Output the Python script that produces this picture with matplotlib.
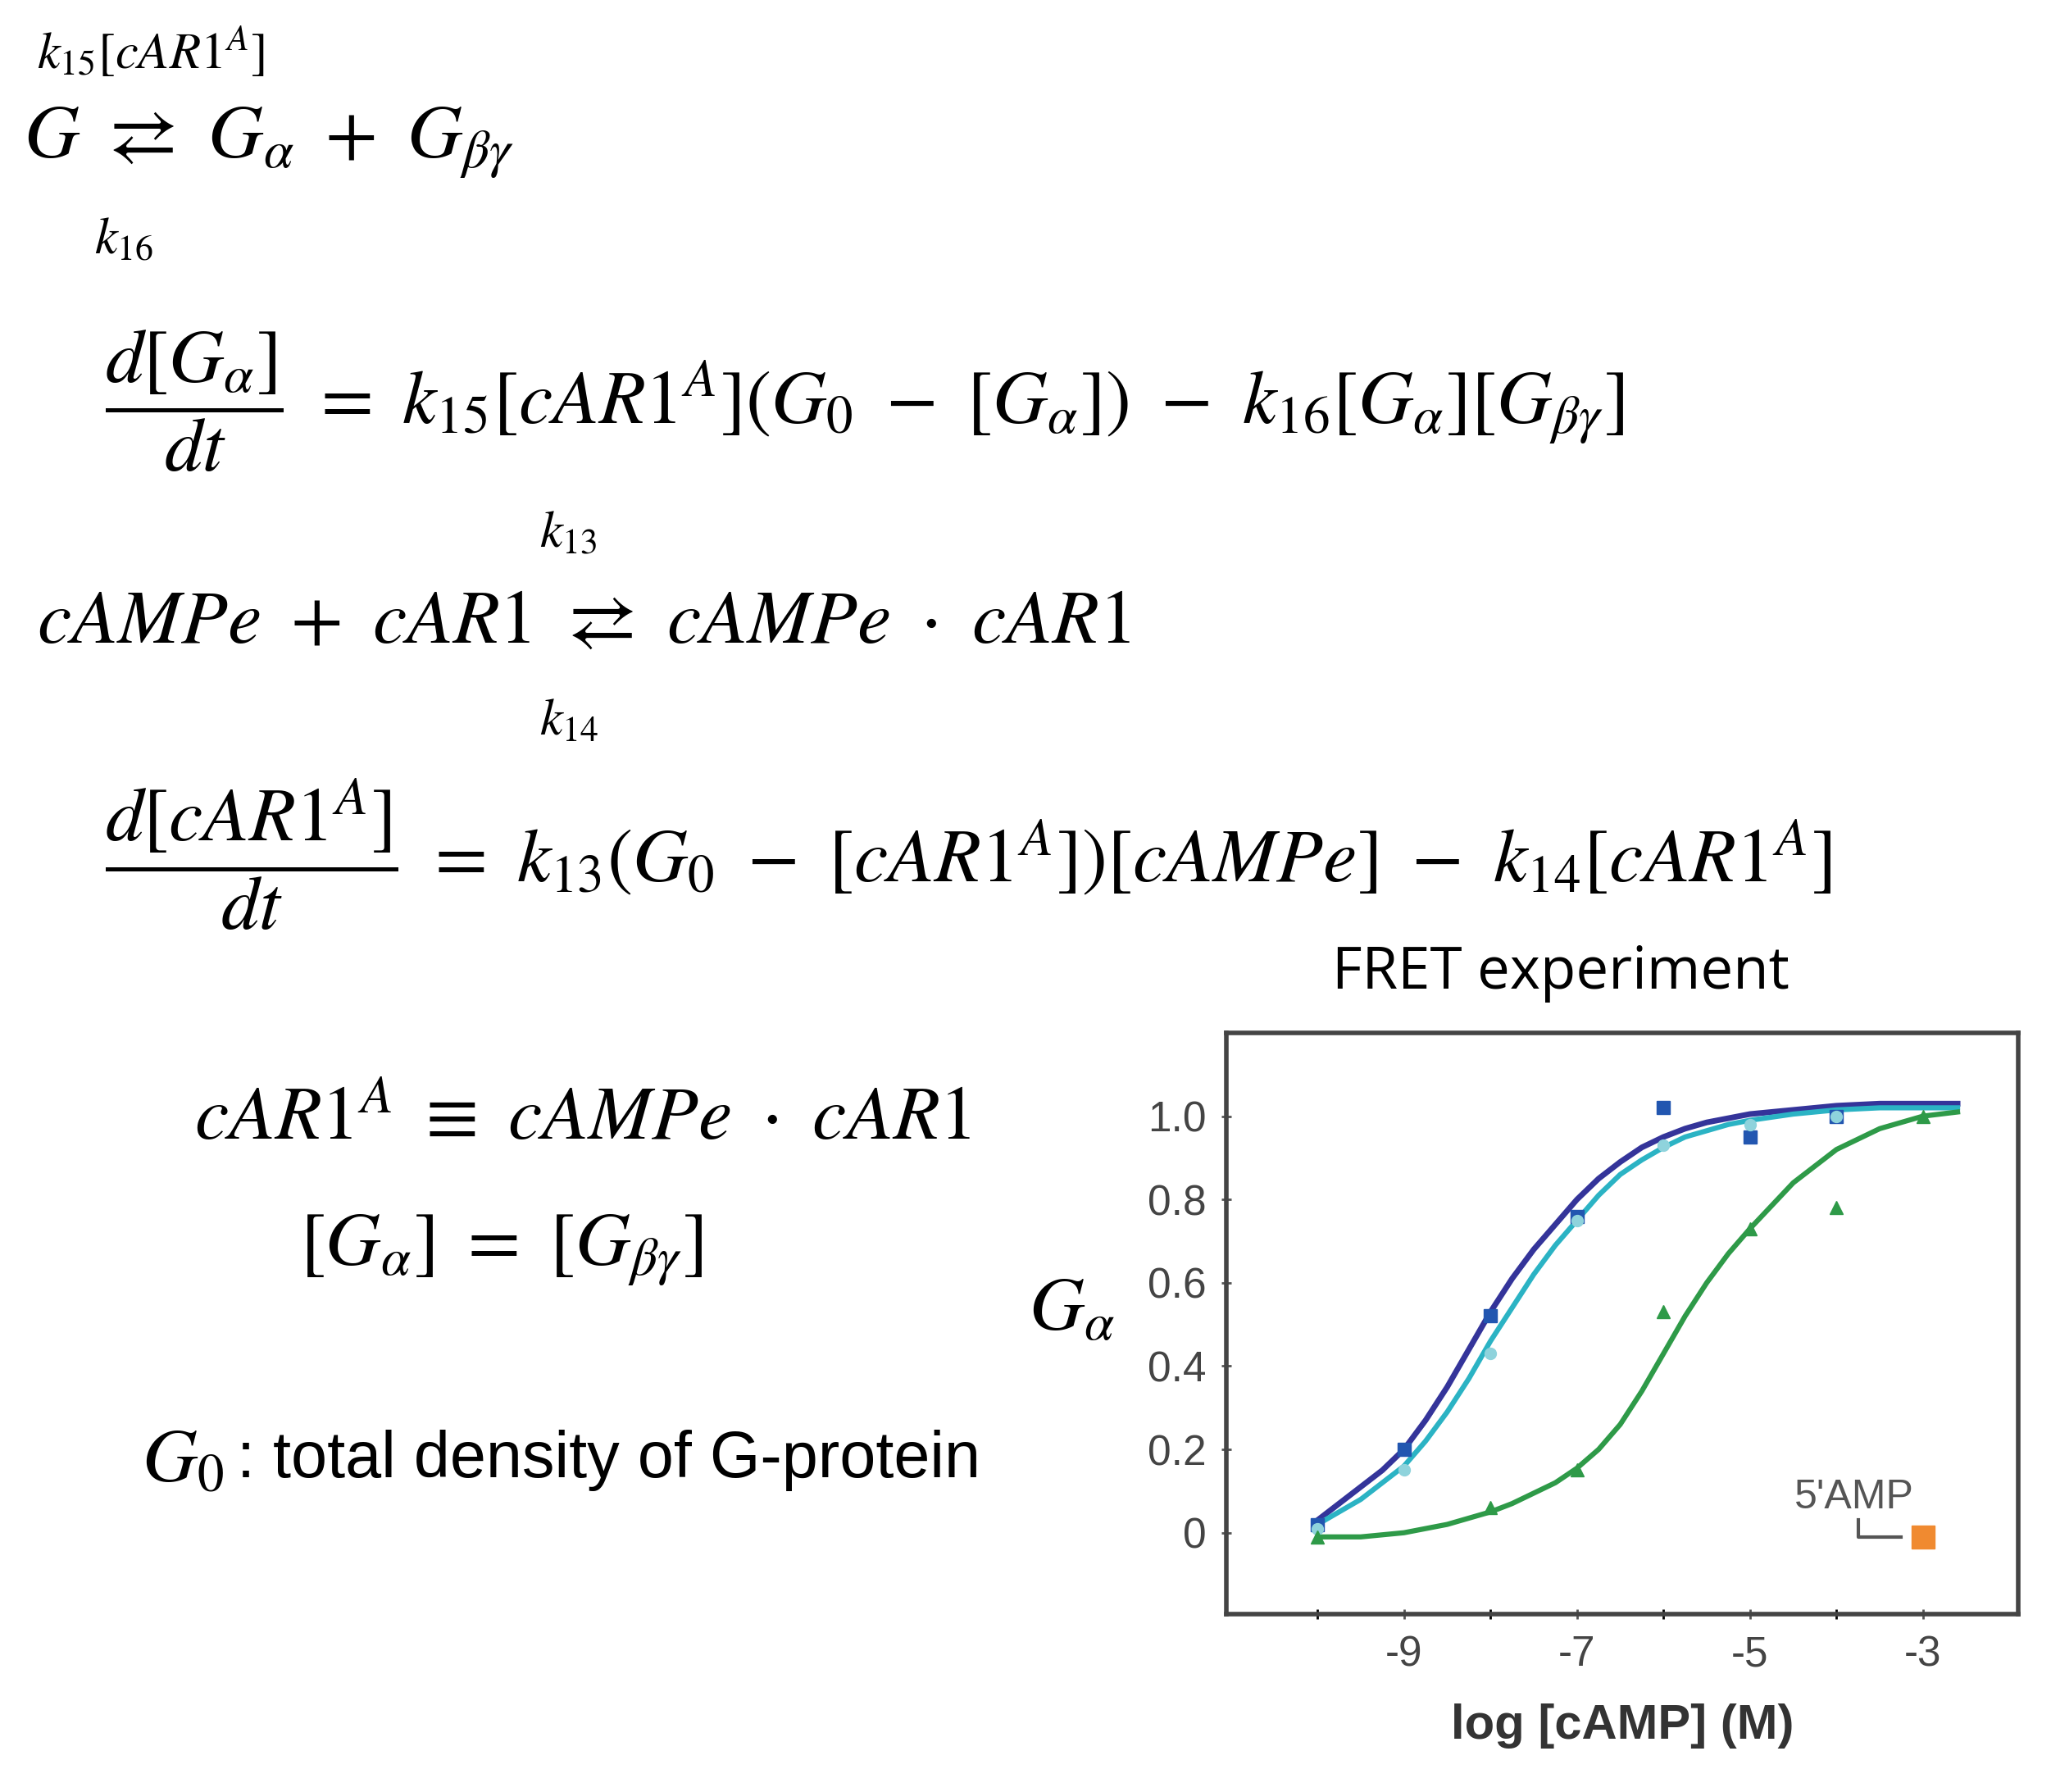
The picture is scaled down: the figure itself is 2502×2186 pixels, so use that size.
import matplotlib
matplotlib.use("Agg")
import matplotlib.pyplot as plt

plt.rcParams['mathtext.fontset'] = 'stix'

# data points
x_pts = [-10, -9, -8, -7, -6, -5, -4]
blue_pts = [0.02, 0.20, 0.52, 0.76, 1.02, 0.95, 1.00]
cyan_pts = [0.01, 0.15, 0.43, 0.75, 0.93, 0.98, 1.00]
x_green = [-10, -8, -7, -6, -5, -4, -3]
green_pts = [-0.01, 0.06, 0.15, 0.53, 0.73, 0.78, 1.00]
x_amp = [-3]
amp_pts = [-0.01]

# fitted curves
x_curve = [-10, -9.75, -9.5, -9.25, -9, -8.75, -8.5, -8.25, -8, -7.75, -7.5, -7.25, -7, -6.75, -6.5, -6.25, -6,
           -5.75, -5.5, -5.25, -5, -4.5, -4, -3.5, -3, -2.6]
blue_curve = [0.03, 0.07, 0.11, 0.15, 0.20, 0.27, 0.35, 0.44, 0.53, 0.61, 0.68, 0.74, 0.80, 0.85, 0.89, 0.925, 0.95,
              0.97, 0.985, 0.995, 1.005, 1.015, 1.025, 1.03, 1.03, 1.03]
cyan_curve = [0.02, 0.05, 0.08, 0.12, 0.16, 0.22, 0.29, 0.37, 0.46, 0.54, 0.62, 0.69, 0.75, 0.81, 0.86, 0.895, 0.925,
              0.95, 0.965, 0.98, 0.99, 1.005, 1.015, 1.02, 1.02, 1.02]
green_curve = [-0.01, -0.01, -0.01, -0.005, 0.0, 0.01, 0.02, 0.035, 0.05, 0.07, 0.095, 0.12, 0.155, 0.20, 0.26, 0.34,
               0.43, 0.52, 0.60, 0.67, 0.73, 0.84, 0.92, 0.97, 1.00, 1.01]

xticks = [-9, -7, -5, -3]
yticks = [0, 0.2, 0.4, 0.6, 0.8, 1.0]
yticklabels = ['0', '0.2', '0.4', '0.6', '0.8', '1.0']

W, H = 1560.0, 1362.0
fig = plt.figure(figsize=(25.02, 21.86), dpi=100)

def T(x, y, s, size, **kw):
    fig.text(x / W, 1 - y / H, s, fontsize=size, va='center', **kw)

big = 67
small = 45
T(28, 40, r'$k_{15}[cAR1^A]$', small)
T(18, 108, r'$G\ \rightleftarrows\ G_\alpha\ +\ G_{\beta\gamma}$', big)
T(72, 182, r'$k_{16}$', small)
T(80, 305, r'$\dfrac{d[G_\alpha]}{dt}\ =\ k_{15}[cAR1^A](G_0\ -\ [G_\alpha])\ -\ k_{16}[G_\alpha][G_{\beta\gamma}]$', big)
T(410, 405, r'$k_{13}$', small)
T(28, 472, r'$cAMPe\ +\ cAR1\ \rightleftarrows\ cAMPe\ \cdot\ cAR1$', big)
T(410, 548, r'$k_{14}$', small)
T(80, 650, r'$\dfrac{d[cAR1^A]}{dt}\ =\ k_{13}(G_0\ -\ [cAR1^A])[cAMPe]\ -\ k_{14}[cAR1^A]$', big)
T(148, 850, r'$cAR1^A\ \equiv\ cAMPe\ \cdot\ cAR1$', big)
T(228, 950, r'$[G_\alpha]\ =\ [G_{\beta\gamma}]$', big)
T(108, 1110, r'$G_0$', big)
T(180, 1110, ': total density of G-protein', 57, family='Liberation Sans')
T(1187, 740, 'FRET experiment', 51, family='Open Sans', ha='center')
T(815, 995, r'$G_\alpha$', big, ha='center')

ax = fig.add_axes([933 / W, 1 - 1227 / H, (1535 - 933) / W, (1227 - 785) / H])
ax.set_xlim(-11.05, -1.9)
ax.set_ylim(-0.196, 1.2)
ax.plot(x_curve, blue_curve, color='#34349a', lw=5)
ax.plot(x_curve, cyan_curve, color='#2bb3c4', lw=4.5)
ax.plot(x_curve, green_curve, color='#2e9a48', lw=4.5)
ax.plot(x_pts, blue_pts, 's', color='#2256b0', ms=12)
ax.plot(x_pts, cyan_pts, 'o', color='#8fd3dc', ms=10)
ax.plot(x_green, green_pts, '^', color='#2e9a48', ms=12)
ax.plot(x_amp, amp_pts, 's', color='#f08a30', ms=20)
ax.plot([-3.75, -3.75, -3.25], [0.03, -0.01, -0.01], color='#555555', lw=3)
ax.text(-3.8, 0.085, "5'AMP", fontsize=36, color='#555555', ha='center', va='center', family='Liberation Sans')
ax.set_xticks(xticks)
ax.set_xticks([-10, -8, -6, -4], minor=True)
ax.set_xticklabels([str(v) for v in xticks])
ax.set_yticks(yticks)
ax.set_yticklabels(yticklabels)
ax.tick_params(labelsize=37, labelcolor='#444444', colors='#555555', length=8, width=2, direction='inout', pad=14)
ax.tick_params(which='minor', length=8, width=2, direction='inout')
for lab in ax.get_xticklabels() + ax.get_yticklabels():
    lab.set_family('Liberation Sans')
for s in ax.spines.values():
    s.set_linewidth(4)
    s.set_color('#444444')
ax.set_xlabel('log [cAMP] (M)', fontsize=43, fontweight='bold', family='Liberation Sans', color='#333333', labelpad=25)

fig.savefig('out.png', dpi=100)
